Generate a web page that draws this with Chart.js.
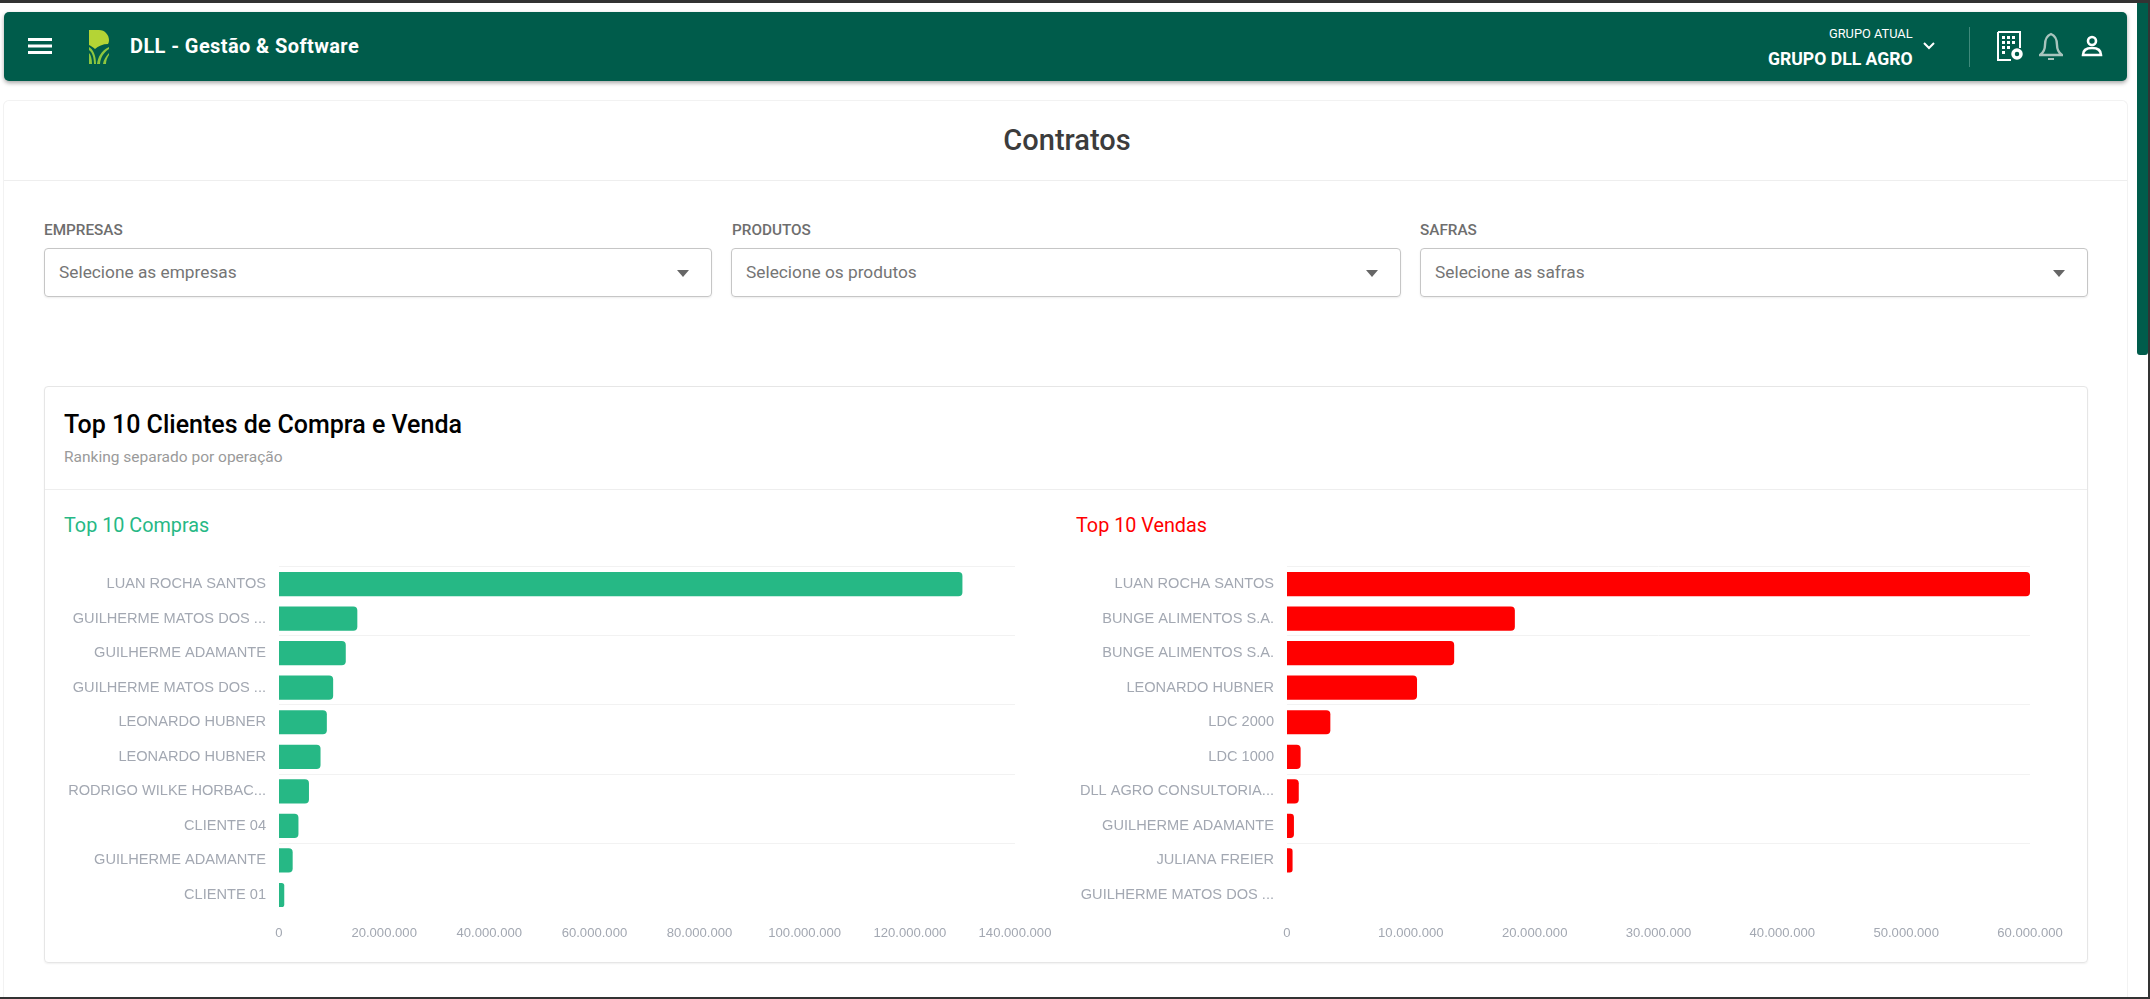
<!DOCTYPE html>
<html>
<head>
<meta charset="utf-8">
<title>Contratos</title>
<script src="https://cdn.jsdelivr.net/npm/chart.js@4/dist/chart.umd.min.js"></script>
<style>
html, body { margin: 0; padding: 0; width: 2150px; height: 999px; overflow: hidden; background: #fff; font-family: Roboto, sans-serif; }
div, span, svg, canvas { position: absolute; }
.frameTop { left: 0; top: 0; width: 2150px; height: 3px; background: #333; }
.frameBottom { left: 0; top: 997px; width: 2150px; height: 2px; background: #333; }
.frameRight { left: 2148px; top: 0; width: 2px; height: 999px; background: #333; }
.thumb { left: 2137px; top: 3px; width: 11px; height: 352px; background: #005c4b; border-radius: 0 0 3px 3px; }
.navbar { left: 4px; top: 12px; width: 2123px; height: 69px; background: #005c4b; border-radius: 5px; box-shadow: 0 2px 4px rgba(0,0,0,.35); }
.navText { color: #fff; white-space: nowrap; }
.main { left: 3px; top: 100px; width: 2125px; height: 897px; border: 1px solid #f2f2f2; border-bottom: 0; border-radius: 6px 6px 0 0; box-sizing: border-box; }
.mainTitle { left: 0; width: 2134px; top: 122px; text-align: center; font-size: 29px; line-height: 36px; font-weight: 500; color: #3c3c3c; }
.divider { height: 1px; background: #eee; }
.fieldLabel { top: 221px; font-size: 15.3px; line-height: 18px; font-weight: 500; color: #6e6e6e; }
.select { top: 248px; height: 49px; box-sizing: border-box; border: 1px solid #c6c6c6; border-radius: 4px; box-shadow: 0 1px 2px rgba(0,0,0,.08); }
.select span { left: 14px; top: 12px; font-size: 17.3px; line-height: 22px; color: #757575; white-space: nowrap; }
.select i { position: absolute; top: 21px; width: 0; height: 0; border-left: 6px solid transparent; border-right: 6px solid transparent; border-top: 7px solid #666; }
.panel { left: 44px; top: 386px; width: 2044px; height: 577px; box-sizing: border-box; border: 1px solid #e6e6e6; border-radius: 4px; box-shadow: 0 1px 2px rgba(0,0,0,.06); }
.panelTitle { left: 64px; top: 410px; font-size: 25px; line-height: 30px; font-weight: 500; color: #000; white-space: nowrap; }
.panelSub { left: 64px; top: 448px; font-size: 15.5px; line-height: 18px; color: #9a9a9a; white-space: nowrap; }
.chartTitle { top: 514px; font-size: 19.8px; line-height: 24px; white-space: nowrap; }
.chartBox { top: 545px; height: 401px; }
</style>
</head>
<body>
<div class="frameTop"></div>
<div class="frameBottom"></div>
<div class="frameRight"></div>
<div class="thumb"></div>

<div class="navbar"></div>
<svg style="left:28px;top:37px" width="24" height="18" viewBox="0 0 24 18"><rect y="1" width="24" height="3" fill="#fff"/><rect y="7.5" width="24" height="3" fill="#fff"/><rect y="14" width="24" height="3" fill="#fff"/></svg>
<svg style="left:88px;top:30px" width="22" height="35" viewBox="0 0 22 35">
<path d="M1 0 H11 C17 0 21 5 21 10 C21 12 20.5 13 20 14 C15 14 10 16 7 19 C5 17 3 16 1 15 Z" fill="#b4d435"/>
<path d="M1 17 C5 19 8 25 8 34 H6 C6 27 4 22 1 20 Z M1 23 C3 25 4 29 4 34 H1 Z M9 34 C10 27 13 21 21 17 V19 C15 23 12.5 28 12 34 Z M15 34 C15.5 30 18 26 21 23 V25 C19 28 18 31 18 34 Z" fill="#8dc63f"/>
</svg>
<div class="navText" style="left:130px;top:33px;font-size:20px;line-height:26px;font-weight:700;letter-spacing:.4px">DLL - Gestão &amp; Software</div>
<div class="navText" style="left:1829px;top:26px;font-size:12.8px;line-height:16px">GRUPO ATUAL</div>
<div class="navText" style="left:1768px;top:48px;font-size:17.6px;line-height:22px;font-weight:700">GRUPO DLL AGRO</div>
<svg style="left:1922px;top:41px" width="14" height="10" viewBox="0 0 14 10"><path d="M2 2 L7 7 L12 2" fill="none" stroke="#fff" stroke-width="2"/></svg>
<div style="left:1969px;top:27px;width:1px;height:40px;background:#3f8a7b"></div>
<svg style="left:1997px;top:31px" width="28" height="30" viewBox="0 0 28 30">
<path d="M1 1 H23 V17 M1 1 V29 H14" fill="none" stroke="#fff" stroke-width="2"/>
<g fill="#fff"><rect x="5" y="5" width="3" height="3"/><rect x="10" y="5" width="3" height="3"/><rect x="15" y="5" width="3" height="3"/><rect x="5" y="10" width="3" height="3"/><rect x="10" y="10" width="3" height="3"/><rect x="15" y="10" width="3" height="3"/><rect x="5" y="15" width="3" height="3"/><rect x="10" y="15" width="3" height="3"/><rect x="5" y="20" width="3" height="3"/></g>
<circle cx="20" cy="23" r="4" fill="none" stroke="#fff" stroke-width="3.5"/>
</svg>
<svg style="left:2039px;top:32px" width="24" height="29" viewBox="0 0 24 29"><path d="M12 2 C7 4 6 8 6 13 C6 18 4 21 1 23 H23 C20 21 18 18 18 13 C18 8 17 4 12 2 Z" fill="none" stroke="#a8c4bd" stroke-width="2.4"/><rect x="9" y="26" width="6" height="2" fill="#a8c4bd"/></svg>
<svg style="left:2081px;top:35px" width="22" height="22" viewBox="0 0 22 22"><circle cx="11" cy="6" r="4" fill="none" stroke="#fff" stroke-width="2.6"/><path d="M2 20 C2 15 6 13 11 13 C16 13 20 15 20 20 Z" fill="none" stroke="#fff" stroke-width="2.6"/></svg>

<div class="main"></div>
<div class="mainTitle">Contratos</div>
<div class="divider" style="left:4px;top:180px;width:2123px"></div>

<div class="fieldLabel" style="left:44px">EMPRESAS</div>
<div class="select" style="left:44px;width:668px"><span>Selecione as empresas</span><i style="left:632px"></i></div>
<div class="fieldLabel" style="left:732px">PRODUTOS</div>
<div class="select" style="left:731px;width:670px"><span>Selecione os produtos</span><i style="left:634px"></i></div>
<div class="fieldLabel" style="left:1420px">SAFRAS</div>
<div class="select" style="left:1420px;width:668px"><span>Selecione as safras</span><i style="left:632px"></i></div>

<div class="panel"></div>
<div class="panelTitle">Top 10 Clientes de Compra e Venda</div>
<div class="panelSub">Ranking separado por operação</div>
<div class="divider" style="left:45px;top:489px;width:2042px"></div>

<div class="chartTitle" style="left:64px;color:#26b885">Top 10 Compras</div>
<div class="chartTitle" style="left:1076px;color:#ff0000">Top 10 Vendas</div>

<div class="chartBox" style="left:50px;width:1020px"><canvas id="comprasChart"></canvas></div>
<div class="chartBox" style="left:1062px;width:1020px"><canvas id="vendasChart"></canvas></div>

<script>
var compraClientes = ['LUAN ROCHA SANTOS', 'GUILHERME MATOS DOS ...', 'GUILHERME ADAMANTE', 'GUILHERME MATOS DOS ...', 'LEONARDO HUBNER', 'LEONARDO HUBNER', 'RODRIGO WILKE HORBAC...', 'CLIENTE 04', 'GUILHERME ADAMANTE', 'CLIENTE 01'];
var compraValores = [130000000, 14900000, 12700000, 10300000, 9100000, 7900000, 5700000, 3700000, 2600000, 1000000];
var compraTicks = ['0', '20.000.000', '40.000.000', '60.000.000', '80.000.000', '100.000.000', '120.000.000', '140.000.000'];

var vendaClientes = ['LUAN ROCHA SANTOS', 'BUNGE ALIMENTOS S.A.', 'BUNGE ALIMENTOS S.A.', 'LEONARDO HUBNER', 'LDC 2000', 'LDC 1000', 'DLL AGRO CONSULTORIA...', 'GUILHERME ADAMANTE', 'JULIANA FREIER', 'GUILHERME MATOS DOS ...'];
var vendaValores = [60000000, 18400000, 13500000, 10500000, 3500000, 1100000, 950000, 560000, 450000, 0];
var vendaTicks = ['0', '10.000.000', '20.000.000', '30.000.000', '40.000.000', '50.000.000', '60.000.000'];

function criarGrafico(id, labels, valores, ticks, passo, cor, esquerda, direita) {
    return new Chart(document.getElementById(id), {
        type: 'bar',
        data: {
            labels: labels,
            datasets: [{
                data: valores,
                backgroundColor: cor,
                borderRadius: { topRight: 4, bottomRight: 4 },
                barPercentage: 0.7,
                categoryPercentage: 1
            }]
        },
        options: {
            indexAxis: 'y',
            responsive: true,
            maintainAspectRatio: false,
            animation: false,
            layout: { autoPadding: false, padding: { top: 0, bottom: 0, left: 0, right: direita } },
            plugins: { legend: { display: false }, tooltip: { enabled: false } },
            scales: {
                x: {
                    min: 0,
                    max: passo * (ticks.length - 1),
                    border: { display: false },
                    grid: { display: false },
                    ticks: {
                        stepSize: passo,
                        maxRotation: 0,
                        autoSkip: false,
                        padding: 5,
                        color: '#a3a8b2',
                        font: { family: 'Liberation Sans', size: 13.1 },
                        callback: function(v, i) { return ticks[i]; }
                    }
                },
                y: {
                    afterFit: function(scale) { scale.width = esquerda; },
                    border: { display: false },
                    grid: {
                        drawTicks: false,
                        lineWidth: 1,
                        color: function(ctx) {
                            if (ctx.index === labels.length) return '#e4e4e4';
                            return ctx.index % 2 === 0 ? '#f2f2f2' : 'rgba(0,0,0,0)';
                        }
                    },
                    ticks: {
                        padding: 13,
                        autoSkip: false,
                        color: '#a3a8b2',
                        font: { family: 'Liberation Sans', size: 14.6 }
                    }
                }
            }
        }
    });
}

criarGrafico('comprasChart', compraClientes, compraValores, compraTicks, 20000000, '#26b885', 229, 55);
criarGrafico('vendasChart', vendaClientes, vendaValores, vendaTicks, 10000000, '#ff0000', 225, 52);
</script>
</body>
</html>
